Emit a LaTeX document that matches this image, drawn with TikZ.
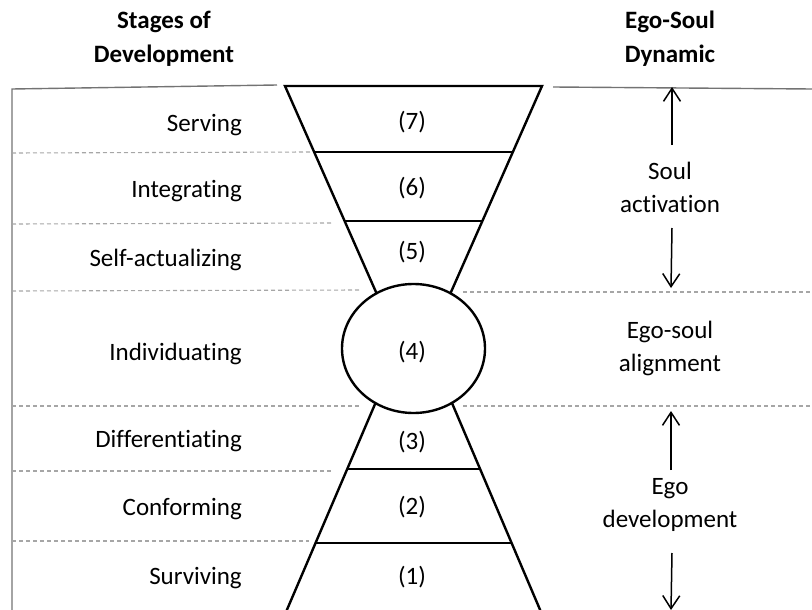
\documentclass[tikz,border=0pt]{standalone}
\usepackage{fontspec}
\setmainfont{Carlito}[Ligatures={NoCommon}]
\usetikzlibrary{arrows.meta,shapes.geometric}
\begin{document}
\begin{tikzpicture}[x=1pt,y=-1pt,
  every node/.style={font=\fontsize{25}{33}\selectfont, inner sep=0pt},
  lbl/.style={anchor=east, text height=0.72em, text depth=0.22em, yshift=-5pt},
  num/.style={text height=0.72em, text depth=0.22em, yshift=-5pt},
  hdr/.style={align=center, font=\fontsize{25}{34}\selectfont\bfseries},
  dyn/.style={align=center},
  frame/.style={draw=black!55, line width=1.4pt},
  sep/.style={draw=black!35, line width=1.1pt, dash pattern=on 4pt off 3pt},
  glass/.style={draw=black, line width=2.4pt},
  arr/.style={draw=black, line width=1.5pt, -{Straight Barb[length=13pt,width=17pt,line width=1.5pt]}}
]
\useasboundingbox (0,0) rectangle (812,610);

% headers
\node[hdr] (h1) at (164,39) {Stages of\\Development};
\node[hdr] (h2) at (670,39) {Ego-Soul\\Dynamic};

% frame
\coordinate (fl) at (12,610);
\coordinate (ftl) at (12,89);
\coordinate (ftm) at (277,85);
\coordinate (frm) at (553,87);
\coordinate (frr) at (812,89);
\draw[frame] (fl) -- (ftl) -- (ftm);
\draw[frame] (frm) -- (frr);

% dashed separators
\coordinate (d1a) at (12,153); \coordinate (d1b) at (310,152);
\coordinate (d2a) at (12,224); \coordinate (d2b) at (332,223);
\coordinate (d3a) at (12,291); \coordinate (d3b) at (361,290);
\coordinate (d3c) at (463,292); \coordinate (d3d) at (812,292);
\coordinate (d4a) at (12,406); \coordinate (d4b) at (361,406);
\coordinate (d4c) at (463,406); \coordinate (d4d) at (812,406);
\coordinate (d5a) at (12,471); \coordinate (d5b) at (332,471);
\coordinate (d6a) at (12,541); \coordinate (d6b) at (309,541);
\draw[sep] (d1a) -- (d1b);
\draw[sep] (d2a) -- (d2b);
\draw[sep] (d3a) -- (d3b);
\draw[sep] (d3c) -- (d3d);
\draw[sep] (d4a) -- (d4b);
\draw[sep] (d4c) -- (d4d);
\draw[sep] (d5a) -- (d5b);
\draw[sep] (d6a) -- (d6b);

% hourglass
\coordinate (tl) at (285,86);
\coordinate (tr) at (542,86);
\coordinate (ml) at (379.5,300);
\coordinate (mr) at (447.5,300);
\coordinate (nl) at (378.5,396);
\coordinate (nr) at (449,396);
\coordinate (bl) at (286,612);
\coordinate (br) at (541,612);
\draw[glass, line join=miter] (ml) -- (tl) -- (tr) -- (mr);
\draw[glass] (nl) -- (bl);
\draw[glass] (nr) -- (br);
\coordinate (l7a) at (314.2,152); \coordinate (l7b) at (512.8,152);
\coordinate (l6a) at (344.6,221); \coordinate (l6b) at (482.4,221);
\coordinate (l3a) at (346.6,469); \coordinate (l3b) at (480.4,469);
\coordinate (l2a) at (314.8,543); \coordinate (l2b) at (512.2,543);
\draw[glass] (l7a) -- (l7b);
\draw[glass] (l6a) -- (l6b);
\draw[glass] (l3a) -- (l3b);
\draw[glass] (l2a) -- (l2b);
\node[ellipse, draw=black, line width=2.4pt, fill=white, minimum width=143pt, minimum height=129pt] (s4) at (413.5,348.5) {};
\node[num] (n4) at (412,352) {(4)};

\node[num] (n7) at (412,122) {(7)};
\node[num] (n6) at (412,188) {(6)};
\node[num] (n5) at (412,252) {(5)};
\node[num] (n3) at (412,442) {(3)};
\node[num] (n2) at (412,507) {(2)};
\node[num] (n1) at (412,577) {(1)};

% stage labels
\node[lbl] (t7) at (242,124) {Serving};
\node[lbl] (t6) at (242,190) {Integrating};
\node[lbl] (t5) at (242,259) {Self-actualizing};
\node[lbl] (t4) at (242,353) {Individuating};
\node[lbl] (t3) at (242,440) {Differentiating};
\node[lbl] (t2) at (242,508) {Conforming};
\node[lbl] (t1) at (242,577) {Surviving};

% dynamics
\node[dyn] (g1) at (670,187) {Soul\\activation};
\node[dyn] (g2) at (670,348) {Ego-soul\\alignment};
\node[dyn] (g3) at (670,505) {Ego\\development};

\coordinate (a1s) at (672,145); \coordinate (a1e) at (672,87);
\coordinate (a2s) at (672,228); \coordinate (a2e) at (671,288);
\coordinate (a3s) at (671,470); \coordinate (a3e) at (671,411);
\coordinate (a4s) at (672,553); \coordinate (a4e) at (671,610);
\draw[arr] (a1s) -- (a1e);
\draw[arr] (a2s) -- (a2e);
\draw[arr] (a3s) -- (a3e);
\draw[arr] (a4s) -- (a4e);
\end{tikzpicture}
\end{document}
